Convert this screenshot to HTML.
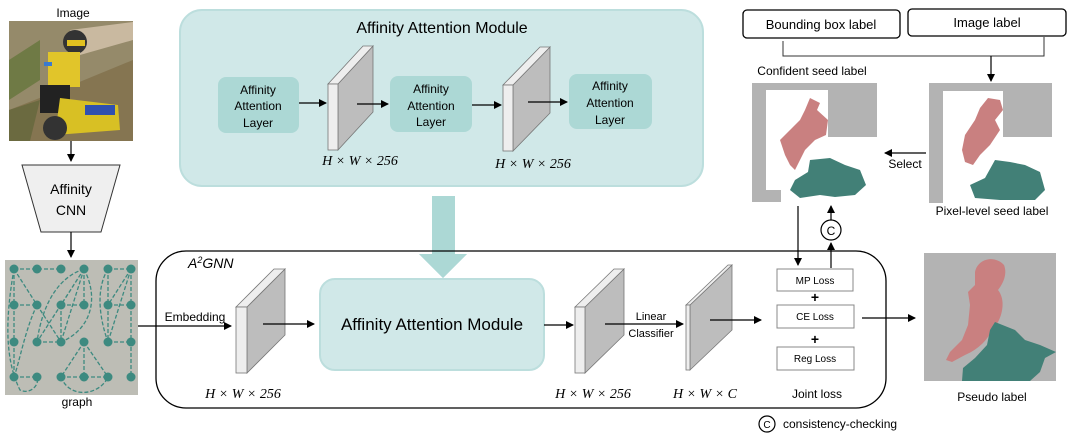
<!DOCTYPE html>
<html><head><meta charset="utf-8"><style>
html,body{margin:0;padding:0;background:#fff;}
svg{display:block;font-family:"Liberation Sans",sans-serif;}
.m{font-family:"Liberation Serif",serif;font-style:italic;font-size:14px;}
</style></head><body>
<svg width="1072" height="445" viewBox="0 0 1072 445" xmlns="http://www.w3.org/2000/svg">
<defs>
<marker id="ah" markerWidth="8" markerHeight="8" refX="7" refY="4" orient="auto" markerUnits="userSpaceOnUse">
<path d="M0,0 L8,4 L0,8 z" fill="#000"/></marker>
</defs>

<!-- Image -->
<text x="73" y="17" font-size="12" text-anchor="middle">Image</text>
<rect x="9" y="21" width="124" height="120" fill="#857551"/>
<path d="M9,21 L133,21 L133,60 L60,90 L9,110 z" fill="#958a6a"/>
<path d="M70,30 L133,22 L133,40 L80,55z" fill="#c9b9a0"/>
<path d="M9,60 L40,40 L40,80 L9,100z" fill="#6f7a45"/>
<path d="M9,110 L40,100 L30,141 L9,141z" fill="#6b6a40"/>
<circle cx="75" cy="42" r="12" fill="#333"/>
<rect x="67" y="40" width="18" height="6" fill="#e0c020"/>
<rect x="48" y="52" width="32" height="35" fill="#e1c52a"/>
<rect x="44" y="62" width="8" height="4" fill="#3a7ad0"/>
<rect x="40" y="85" width="30" height="28" fill="#222"/>
<path d="M60,98 L118,105 L120,130 L55,135z" fill="#d8c024"/>
<rect x="85" y="105" width="30" height="10" fill="#3050b0"/>
<circle cx="55" cy="128" r="12" fill="#333"/>
<path d="M71,141 V161" stroke="#000" stroke-width="1.2" marker-end="url(#ah)"/>

<!-- Affinity CNN -->
<path d="M22,165 L120,165 L101,232 L41,232 z" fill="#efefef" stroke="#333" stroke-width="1"/>
<text x="71" y="194" font-size="14" text-anchor="middle">Affinity</text>
<text x="71" y="215" font-size="14" text-anchor="middle">CNN</text>
<path d="M71,232 V257" stroke="#000" stroke-width="1.2" marker-end="url(#ah)"/>

<!-- graph -->
<rect x="5" y="260" width="133" height="135" fill="#bdbdb5"/>
<g stroke="#3d8a80" stroke-width="1.3" stroke-dasharray="4,2" fill="none">
<path d="M14,269 H61 M108,269 H131 M14,305 H37 M61,305 H84 M108,305 H131 M14,342 V377 M37,342 H61 M108,342 H131 M14,377 H37 M61,377 H108"/>
<path d="M14,269 V342 M14,269 L37,305 M37,305 L61,342 M61,305 V342 M84,269 V305 M84,269 L37,342 M84,269 L61,305 M84,269 L61,342 M108,269 V342 M131,269 V377 M131,269 L108,305 M131,269 L108,342 M84,342 L61,377 M84,342 V377 M84,342 L108,377"/>
<path d="M14,269 C5,320 5,360 20,390 C30,395 40,385 37,377"/>
<path d="M84,269 C50,280 40,320 37,342 M84,269 C100,300 90,330 61,342 M108,269 C95,290 100,320 108,342"/>
<path d="M37,305 C25,330 20,360 14,377 M61,377 C70,400 100,395 108,377"/>
</g>
<g fill="#3d8a80">
<circle cx="14" cy="269" r="4.5"/><circle cx="37" cy="269" r="4.5"/><circle cx="61" cy="269" r="4.5"/><circle cx="84" cy="269" r="4.5"/><circle cx="108" cy="269" r="4.5"/><circle cx="131" cy="269" r="4.5"/>
<circle cx="14" cy="305" r="4.5"/><circle cx="37" cy="305" r="4.5"/><circle cx="61" cy="305" r="4.5"/><circle cx="84" cy="305" r="4.5"/><circle cx="108" cy="305" r="4.5"/><circle cx="131" cy="305" r="4.5"/>
<circle cx="14" cy="342" r="4.5"/><circle cx="37" cy="342" r="4.5"/><circle cx="61" cy="342" r="4.5"/><circle cx="84" cy="342" r="4.5"/><circle cx="108" cy="342" r="4.5"/><circle cx="131" cy="342" r="4.5"/>
<circle cx="14" cy="377" r="4.5"/><circle cx="37" cy="377" r="4.5"/><circle cx="61" cy="377" r="4.5"/><circle cx="84" cy="377" r="4.5"/><circle cx="108" cy="377" r="4.5"/><circle cx="131" cy="377" r="4.5"/>
</g>
<text x="77" y="406" font-size="12" text-anchor="middle">graph</text>

<!-- Top module -->
<rect x="180" y="10" width="523" height="176" rx="22" fill="#d0e8e8" stroke="#bcdedd" stroke-width="2"/>
<text x="442" y="33" font-size="16" text-anchor="middle">Affinity Attention Module</text>
<g fill="#acd8d5">
<rect x="218" y="77" width="81" height="56" rx="8"/>
<rect x="390" y="76" width="82" height="56" rx="8"/>
<rect x="569" y="74" width="83" height="55" rx="8"/>
</g>
<g font-size="12" text-anchor="middle">
<text x="258" y="94">Affinity</text><text x="258" y="110">Attention</text><text x="258" y="127">Layer</text>
<text x="431" y="93">Affinity</text><text x="431" y="110">Attention</text><text x="431" y="126">Layer</text>
<text x="610" y="90">Affinity</text><text x="610" y="107">Attention</text><text x="610" y="124">Layer</text>
</g>
<g stroke="#777" stroke-width="0.8">
<path d="M338,84 L373,46 L373,112 L338,150z" fill="#bdbdbd"/><path d="M328,84 L363,46 L373,46 L338,84z" fill="#eee"/><rect x="328" y="84" width="10" height="66" fill="#eee"/>
<path d="M513,85 L550,47 L550,113 L513,151z" fill="#bdbdbd"/><path d="M503,85 L540,47 L550,47 L513,85z" fill="#eee"/><rect x="503" y="85" width="10" height="66" fill="#eee"/>
</g>
<text x="360" y="165" class="m" text-anchor="middle">H × W × 256</text>
<text x="533" y="168" class="m" text-anchor="middle">H × W × 256</text>
<g stroke="#000" stroke-width="1.2">
<path d="M299,103 H326" marker-end="url(#ah)"/>
<path d="M357,104 H388" marker-end="url(#ah)"/>
<path d="M472,105 H501" marker-end="url(#ah)"/>
<path d="M528,102 H567" marker-end="url(#ah)"/>
</g>

<!-- big arrow -->
<path d="M432,196 H455 V254 H467 L443,278 L419,254 H432z" fill="#acd8d5"/>

<!-- A2GNN box -->
<rect x="156" y="251" width="730" height="157" rx="30" fill="none" stroke="#000" stroke-width="1.3"/>
<path d="M432,252 H455 V254 H467 L443,278 L419,254 H432z" fill="#acd8d5"/>
<text x="188" y="268" font-size="14" font-style="italic">A<tspan font-size="9" dy="-5">2</tspan><tspan dy="5">GNN</tspan></text>

<g stroke="#777" stroke-width="0.8">
<path d="M247,307 L285,269 L285,335 L247,373z" fill="#bdbdbd"/><path d="M236,307 L274,269 L285,269 L247,307z" fill="#eee"/><rect x="236" y="307" width="11" height="66" fill="#eee"/>
<path d="M585,307 L624,269 L624,335 L585,373z" fill="#bdbdbd"/><path d="M575,307 L614,269 L624,269 L585,307z" fill="#eee"/><rect x="575" y="307" width="10" height="66" fill="#eee"/>
<path d="M690,305 L732,265 L732,330 L690,370z" fill="#bdbdbd"/><path d="M686,305 L728,265 L732,265 L690,305z" fill="#eee"/><rect x="686" y="305" width="4" height="65" fill="#eee"/>
</g>
<text x="243" y="398" class="m" text-anchor="middle">H × W × 256</text>
<text x="593" y="398" class="m" text-anchor="middle">H × W × 256</text>
<text x="705" y="398" class="m" text-anchor="middle">H × W × C</text>
<text x="195" y="321" font-size="12" text-anchor="middle">Embedding</text>
<text x="651" y="320" font-size="11" text-anchor="middle">Linear</text>
<text x="651" y="337" font-size="11" text-anchor="middle">Classifier</text>

<rect x="320" y="279" width="224" height="91" rx="15" fill="#d0e8e8" stroke="#bcdedd" stroke-width="2"/>
<text x="432" y="330" font-size="17" text-anchor="middle">Affinity Attention Module</text>

<g stroke="#000" stroke-width="1.2">
<path d="M138,326 H231" marker-end="url(#ah)"/>
<path d="M263,324 H314" marker-end="url(#ah)"/>
<path d="M544,325 H573" marker-end="url(#ah)"/>
<path d="M605,324 H683" marker-end="url(#ah)"/>
<path d="M710,320 H761" marker-end="url(#ah)"/>
<path d="M862,318 H915" marker-end="url(#ah)"/>
</g>

<!-- losses -->
<g fill="#fff" stroke="#888" stroke-width="1">
<rect x="777" y="269" width="76" height="22"/>
<rect x="777" y="305" width="77" height="23"/>
<rect x="777" y="347" width="77" height="23"/>
</g>
<g font-size="10" text-anchor="middle">
<text x="815" y="284">MP Loss</text><text x="815" y="320">CE Loss</text><text x="815" y="362">Reg Loss</text>
</g>
<text x="815" y="302" font-size="14" font-weight="bold" text-anchor="middle">+</text>
<text x="815" y="344" font-size="14" font-weight="bold" text-anchor="middle">+</text>
<text x="817" y="398" font-size="12" text-anchor="middle">Joint loss</text>

<!-- pseudo label -->
<rect x="924" y="253" width="132" height="128" fill="#b3b3b3"/>
<path d="M975,272 C978,258 995,255 1004,265 C1008,275 1002,285 998,290 C1006,300 1002,315 998,322 L992,330 C985,345 972,352 965,355 L952,362 L946,360 L950,352 L962,340 L968,325 L970,305 L968,292 L975,285z" fill="#c98080"/>
<path d="M990,330 L995,322 L1005,326 L1015,330 L1025,340 L1040,345 L1056,352 L1045,358 L1040,372 L1030,381 L962,381 L963,368 L975,358 L987,345z" fill="#428077"/>
<text x="992" y="401" font-size="12" text-anchor="middle">Pseudo label</text>

<!-- consistency -->
<circle cx="767" cy="424" r="8" fill="#fff" stroke="#000" stroke-width="1.2"/>
<text x="767" y="428" font-size="10" text-anchor="middle">C</text>
<text x="783" y="428" font-size="12">consistency-checking</text>

<!-- top right -->
<rect x="743" y="10" width="157" height="28" rx="4" fill="#fff" stroke="#000" stroke-width="1.3"/>
<rect x="908" y="9" width="158" height="27" rx="4" fill="#fff" stroke="#000" stroke-width="1.3"/>
<text x="821" y="29" font-size="13" text-anchor="middle">Bounding box label</text>
<text x="987" y="27" font-size="13" text-anchor="middle">Image label</text>
<path d="M783,41 V56 H1044 V37" fill="none" stroke="#333" stroke-width="1"/>
<path d="M991,56 V81" stroke="#000" stroke-width="1.2" marker-end="url(#ah)"/>
<text x="812" y="75" font-size="12" text-anchor="middle">Confident seed label</text>

<!-- confident seed -->
<rect x="752" y="83" width="125" height="119" fill="#b3b3b3"/>
<path d="M766,90 H828 V137 H877 V202 H781 V190 H766z" fill="#fff"/>
<path d="M810,98 L820,103 L817,110 L828,120 L826,135 L815,140 L805,150 L800,160 L795,170 L790,165 L785,155 L780,140 L790,130 L800,120 L805,110z" fill="#c98080"/>
<path d="M810,160 L830,158 L845,165 L860,170 L866,185 L855,195 L835,197 L820,195 L800,198 L790,190 L795,180 L808,172z" fill="#428077"/>
<text x="905" y="168" font-size="12" text-anchor="middle">Select</text>
<path d="M926,153 H885" stroke="#000" stroke-width="1.2" marker-end="url(#ah)"/>

<!-- pixel-level seed -->
<rect x="929" y="83" width="123" height="120" fill="#b3b3b3"/>
<path d="M943,91 H1003 V137 H1052 V203 H943z" fill="#fff"/>
<path d="M988,98 L1000,100 L1003,110 L995,120 L1000,130 L990,145 L980,155 L973,165 L965,162 L962,150 L965,135 L975,120 L980,108z" fill="#c98080"/>
<path d="M995,160 L1010,162 L1025,165 L1040,172 L1045,190 L1035,200 L1000,200 L975,198 L970,185 L985,178z" fill="#428077"/>
<text x="992" y="215" font-size="12" text-anchor="middle">Pixel-level seed label</text>

<!-- connections -->
<path d="M798,206 V265" stroke="#000" stroke-width="1.2" marker-end="url(#ah)"/>
<path d="M831,268 V243" stroke="#000" stroke-width="1.2" marker-end="url(#ah)"/>
<circle cx="831" cy="230" r="10" fill="#fff" stroke="#000" stroke-width="1.2"/>
<text x="831" y="235" font-size="12" text-anchor="middle">C</text>
<path d="M831,220 V206" stroke="#000" stroke-width="1.2" marker-end="url(#ah)"/>
</svg>
</body></html>
